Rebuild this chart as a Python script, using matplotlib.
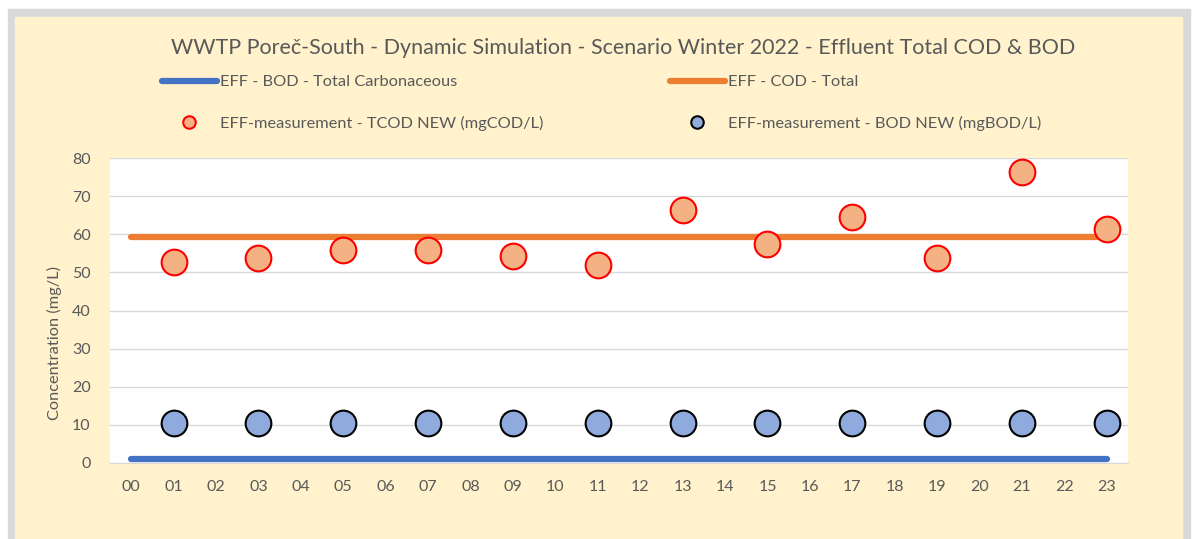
import matplotlib
matplotlib.use("Agg")
import matplotlib.pyplot as plt
from matplotlib.patches import Rectangle
from matplotlib.lines import Line2D

# hours 00..23
hours = list(range(24))
hour_labels = ["%02d" % h for h in hours]

# simulated lines (constant)
cod_total = [59.3] * 24
bod_total = [1.0] * 24

# measurements at odd hours
meas_hours = [1, 3, 5, 7, 9, 11, 13, 15, 17, 19, 21, 23]
tcod_meas = [52.6, 53.8, 55.9, 56.0, 54.2, 52.0, 66.3, 57.4, 64.6, 53.8, 76.3, 61.4]
bod_meas = [10.5] * 12

W, H = 1192, 539
fig = plt.figure(figsize=(W / 100, H / 100), dpi=100)
fig.patch.set_facecolor("white")
plt.rcParams["font.family"] = ["Lato", "DejaVu Sans"]

# panel border + yellow fill
fig.patches.append(Rectangle((8 / W, 0), (1190 - 8) / W, (H - 9) / H,
                             transform=fig.transFigure, color="#D9D9D9", zorder=-3))
fig.patches.append(Rectangle((15 / W, 0), (1182 - 15) / W, (H - 17) / H,
                             transform=fig.transFigure, color="#FFF2CC", zorder=-2))

ax = fig.add_axes([110 / W, (H - 463) / H, (1128 - 110) / W, (463 - 158) / H])
ax.set_facecolor("white")

txt = "#595959"
ax.plot(hours, bod_total, color="#4472C4", lw=4.5, solid_capstyle="round", zorder=3)
ax.plot(hours, cod_total, color="#ED7D31", lw=4.5, solid_capstyle="round", zorder=3)
ax.plot(meas_hours, tcod_meas, "o", ms=18.5, mfc="#F4B183", mec="#FF0000", mew=1.5, zorder=4)
ax.plot(meas_hours, bod_meas, "o", ms=18.5, mfc="#8FAADC", mec="black", mew=1.5, zorder=4)

ax.set_xlim(-0.5, 23.5)
ax.set_ylim(0, 80)
ax.set_yticks(range(0, 81, 10))
ax.set_xticks(hours)
ax.set_xticklabels(hour_labels)
ax.grid(axis="y", color="#D9D9D9", lw=1)
ax.set_axisbelow(True)
for s in ["top", "right", "left"]:
    ax.spines[s].set_visible(False)
ax.spines["bottom"].set_color("#D9D9D9")
ax.tick_params(length=0, labelsize=11.5, colors=txt, pad=12)
ax.tick_params(axis="y", pad=14)

# y label sits a bit below the axis centre, as in the original
fig.text(54 / W, 1 - 343 / H, "Concentration (mg/L)", rotation=90,
         ha="center", va="center", fontsize=11.8, color=txt)

fig.text(0.5 * (172 + 1075) / W, 1 - 48 / H,
         "WWTP Poreč-South - Dynamic Simulation - Scenario Winter 2022 - Effluent Total COD & BOD",
         ha="center", va="center", fontsize=15.5, color=txt)

h_bod = Line2D([], [], color="#4472C4", lw=4.5, solid_capstyle="round")
h_cod = Line2D([], [], color="#ED7D31", lw=4.5, solid_capstyle="round")
h_tm = Line2D([], [], ls="", marker="o", ms=9, mfc="#F4B183", mec="#FF0000", mew=1.5)
h_bm = Line2D([], [], ls="", marker="o", ms=9, mfc="#8FAADC", mec="black", mew=1.5)

leg_kw = dict(loc="upper left", frameon=False, fontsize=11.8, labelcolor=txt,
              handlelength=3.35, handletextpad=0.2, labelspacing=1.6,
              borderaxespad=0, borderpad=0)
leg1 = fig.legend([h_bod, h_tm], ["EFF - BOD - Total Carbonaceous",
                                  "EFF-measurement - TCOD NEW (mgCOD/L)"],
                  bbox_to_anchor=(162 / W, 1 - 75 / H), **leg_kw)
leg2 = fig.legend([h_cod, h_bm], ["EFF - COD - Total",
                                  "EFF-measurement - BOD NEW (mgBOD/L)"],
                  bbox_to_anchor=(670 / W, 1 - 75 / H), **leg_kw)

fig.savefig("out.png", dpi=100)
